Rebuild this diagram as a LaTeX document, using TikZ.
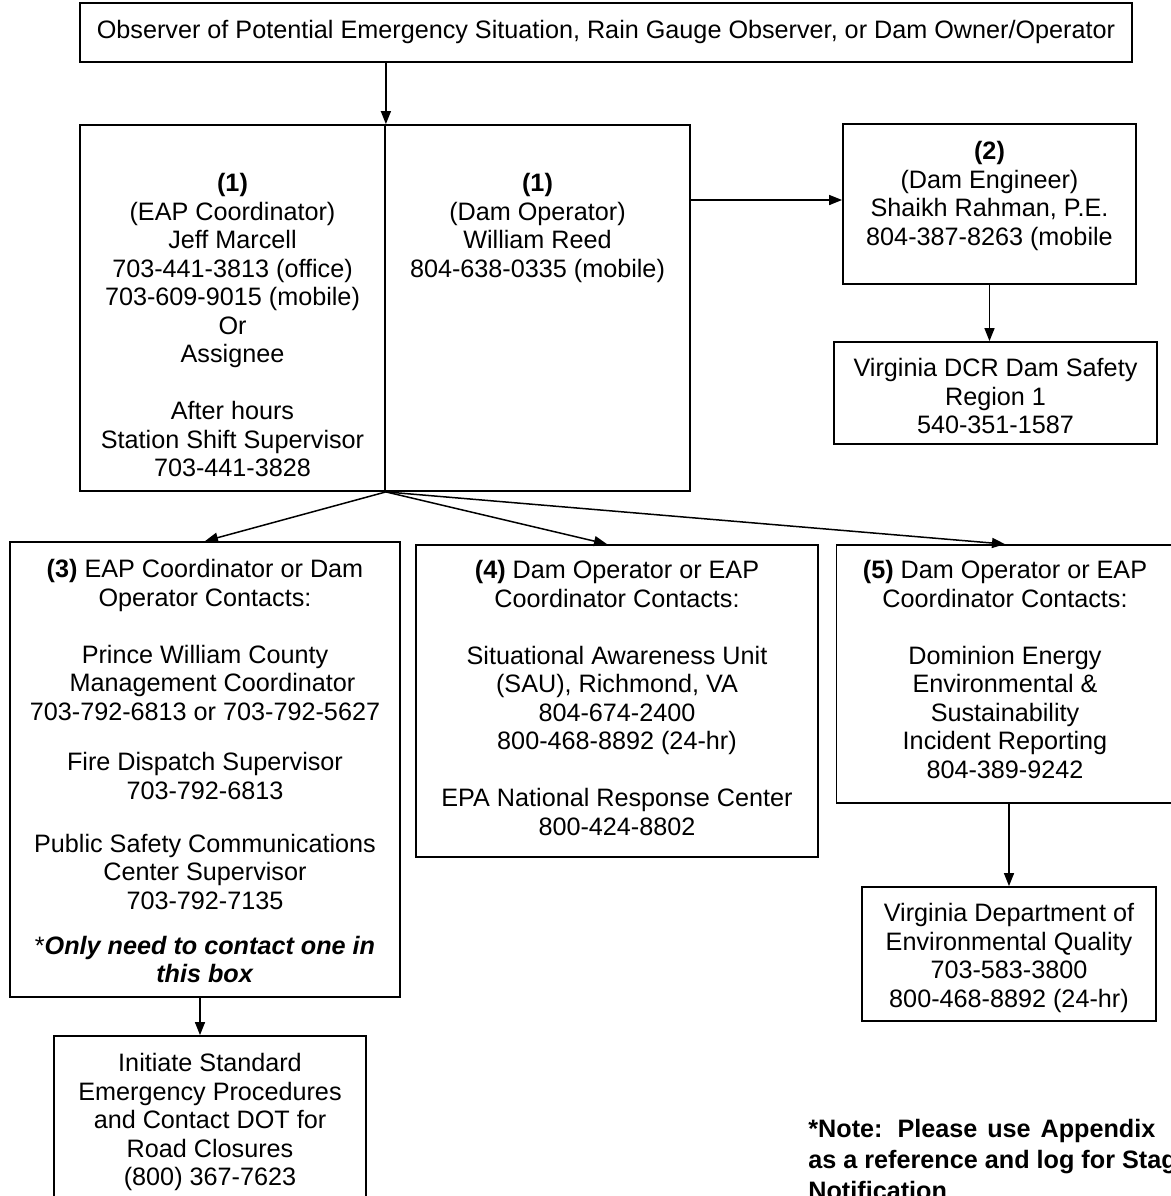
\documentclass[tikz,border=0pt]{standalone}
\usepackage{fontspec}
\setmainfont{Liberation Sans}
\usetikzlibrary{arrows.meta}
\begin{document}
\begin{tikzpicture}[x=0.5pt,y=-0.5pt,
  box/.style={draw, line width=0.9pt, inner sep=0, rectangle},
  txt/.style={inner sep=0, align=center, anchor=north, font=\fontsize{12.6pt}{14.25pt}\selectfont},
  arr/.style={line width=0.75pt, -{Triangle[length=6.5pt,width=5pt]}}]
\useasboundingbox (0,0) rectangle (1171,1196);
\clip (0,0) rectangle (1171,1196);
\fill[white] (0,0) rectangle (1171,1196);

% boxes
\node[box, minimum width=526pt, minimum height=29.5pt] (top) at (606,32.5) {};
\node[box, minimum width=152.5pt, minimum height=183pt] (b1l) at (232.5,308) {};
\node[box, minimum width=152.5pt, minimum height=183pt] (b1r) at (537.5,308) {};
\node[box, minimum width=146.5pt, minimum height=80pt] (b2) at (989.5,204) {};
\node[box, minimum width=161.5pt, minimum height=51pt] (dcr) at (995.5,393) {};
\node[box, minimum width=195pt, minimum height=227.5pt] (b3) at (205,769.5) {};
\node[box, minimum width=201pt, minimum height=156pt] (b4) at (617,701) {};
\node[box, minimum width=168.5pt, minimum height=129pt] (b5) at (1005,674) {};
\node[box, minimum width=147pt, minimum height=67pt] (deq) at (1009,954) {};
\node[box, minimum width=156pt, minimum height=89.5pt] (fin) at (210,1125.5) {};

% texts
\node[txt, anchor=center] (top-t) at (606,32) {Observer of Potential Emergency Situation, Rain Gauge Observer, or Dam Owner/Operator};
\node[txt] (b1l-t) at (232.5,173) {\textbf{(1)}\\(EAP Coordinator)\\Jeff Marcell\\703-441-3813 (office)\\703-609-9015 (mobile)\\Or\\Assignee\\[14.25pt]After hours\\Station Shift Supervisor\\703-441-3828};
\node[txt] (b1r-t) at (537.5,173) {\textbf{(1)}\\(Dam Operator)\\William Reed\\804-638-0335 (mobile)};
\node[txt] (b2-t) at (989.5,141) {\textbf{(2)}\\(Dam Engineer)\\Shaikh Rahman, P.E.\\804-387-8263 (mobile};
\node[txt] (dcr-t) at (995.5,358) {Virginia DCR Dam Safety\\Region 1\\540-351-1587};
\node[txt] (b3-t) at (205,559) {\textbf{(3)} EAP Coordinator or Dam\\Operator Contacts:\\[14.25pt]Prince William County\\\hspace{0.6em}Management Coordinator\\703-792-6813 or 703-792-5627\\[11pt]Fire Dispatch Supervisor\\703-792-6813\\[12.25pt]Public Safety Communications\\Center Supervisor\\703-792-7135\\[8.25pt]*\textbf{\textit{Only need to contact one in}}\\\textbf{\textit{this box}}};
\node[txt] (b4-t) at (617,560) {\textbf{(4)} Dam Operator or EAP\\Coordinator Contacts:\\[14.25pt]Situational Awareness Unit\\(SAU), Richmond, VA\\804-674-2400\\800-468-8892 (24-hr)\\[14.25pt]EPA National Response Center\\800-424-8802};
\node[txt] (b5-t) at (1005,560) {\textbf{(5)} Dam Operator or EAP\\Coordinator Contacts:\\[14.25pt]Dominion Energy\\Environmental \&\\Sustainability\\Incident Reporting\\804-389-9242};
\node[txt] (deq-t) at (1009,903) {Virginia Department of\\Environmental Quality\\703-583-3800\\800-468-8892 (24-hr)};
\node[txt] (fin-t) at (210,1053) {Initiate Standard\\Emergency Procedures\\and Contact DOT for\\Road Closures\\(800) 367-7623};
\node[inner sep=0, anchor=north west, align=left, font=\bfseries\fontsize{12.6pt}{15.5pt}\selectfont] (note) at (808,1119) {\makebox[173.5pt][s]{*Note: Please use Appendix}\\as a reference and log for Stag\\Notification};

% connectors
\draw[arr] (top.south -| b1l.north east) -- (b1l.north east);
\draw[arr] ([yshift=2pt]b1r.east |- b2.west) -- ([yshift=2pt]b2.west);
\draw[arr] (b2.south) -- (b2.south |- dcr.north);
\draw[arr] (b1l.south east) -- (b3.north);
\draw[arr] (b1l.south east) -- ([xshift=-5pt]b4.north);
\draw[arr] (b1l.south east) -- (b5.north);
\draw[arr] (b5.south -| deq.north) -- (deq.north);
\draw[arr] ([xshift=-2.5pt]b3.south) -- ([xshift=-5pt]fin.north);
\end{tikzpicture}
\end{document}
